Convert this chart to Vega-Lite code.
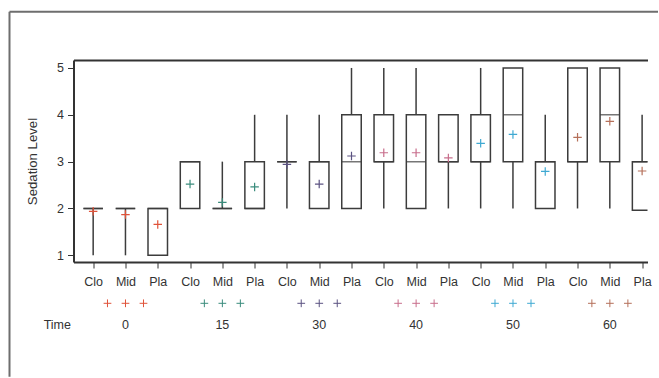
{
  "$schema": "https://vega.github.io/schema/vega-lite/v6.json",
  "padding": {"left": 8.5, "top": 11, "right": 0, "bottom": 0},
  "autosize": {"type": "pad"},
  "datasets": {
    "boxes": [
      {"time": "0", "trt": "Clo", "key": "0-Clo", "min": 1, "q1": 2, "median": 2, "q3": 2, "max": 2, "mean": 1.94},
      {"time": "0", "trt": "Mid", "key": "0-Mid", "min": 1, "q1": 2, "median": 2, "q3": 2, "max": 2, "mean": 1.87},
      {"time": "0", "trt": "Pla", "key": "0-Pla", "min": 1, "q1": 1, "median": 2, "q3": 2, "max": 2, "mean": 1.66},
      {"time": "15", "trt": "Clo", "key": "15-Clo", "min": 2, "q1": 2, "median": 3, "q3": 3, "max": 3, "mean": 2.52},
      {"time": "15", "trt": "Mid", "key": "15-Mid", "min": 2, "q1": 2, "median": 2, "q3": 2, "max": 3, "mean": 2.13},
      {"time": "15", "trt": "Pla", "key": "15-Pla", "min": 2, "q1": 2, "median": 2, "q3": 3, "max": 4, "mean": 2.46},
      {"time": "30", "trt": "Clo", "key": "30-Clo", "min": 2, "q1": 3, "median": 3, "q3": 3, "max": 4, "mean": 2.94},
      {"time": "30", "trt": "Mid", "key": "30-Mid", "min": 2, "q1": 2, "median": 3, "q3": 3, "max": 4, "mean": 2.52},
      {"time": "30", "trt": "Pla", "key": "30-Pla", "min": 2, "q1": 2, "median": 3, "q3": 4, "max": 5, "mean": 3.12},
      {"time": "40", "trt": "Clo", "key": "40-Clo", "min": 2, "q1": 3, "median": 3, "q3": 4, "max": 5, "mean": 3.19},
      {"time": "40", "trt": "Mid", "key": "40-Mid", "min": 2, "q1": 2, "median": 3, "q3": 4, "max": 5, "mean": 3.19},
      {"time": "40", "trt": "Pla", "key": "40-Pla", "min": 2, "q1": 3, "median": 3, "q3": 4, "max": 4, "mean": 3.08},
      {"time": "50", "trt": "Clo", "key": "50-Clo", "min": 2, "q1": 3, "median": 3, "q3": 4, "max": 5, "mean": 3.39},
      {"time": "50", "trt": "Mid", "key": "50-Mid", "min": 2, "q1": 3, "median": 4, "q3": 5, "max": 5, "mean": 3.58},
      {"time": "50", "trt": "Pla", "key": "50-Pla", "min": 2, "q1": 2, "median": 3, "q3": 3, "max": 4, "mean": 2.79},
      {"time": "60", "trt": "Clo", "key": "60-Clo", "min": 2, "q1": 3, "median": 3, "q3": 5, "max": 5, "mean": 3.52},
      {"time": "60", "trt": "Mid", "key": "60-Mid", "min": 2, "q1": 3, "median": 4, "q3": 5, "max": 5, "mean": 3.86},
      {"time": "60", "trt": "Pla", "key": "60-Pla", "min": 1.96, "q1": 1.96, "median": 3, "q3": 3, "max": 4, "mean": 2.8}
    ],
    "frame": [{"fx": "f", "fy": 0}]
  },
  "bounds": "flush",
  "spacing": 30.3,
  "vconcat": [
    {
      "width": 574,
      "height": 202,
      "layer": [
        {
          "data": {"name": "boxes"},
          "layer": [
            {
              "mark": {"type": "rule", "color": "#3c3c3c", "strokeWidth": 1.5},
              "encoding": {
                "x": {
                  "field": "key", "type": "nominal", "sort": null,
                  "scale": {"type": "point", "padding": 0.388, "align": 0.785},
                  "axis": {
                    "orient": "bottom", "title": null, "labelExpr": "split(datum.value, '-')[1]",
                    "labelAngle": 0, "tickSize": 6, "tickColor": "#333", "labelFontSize": 12.5,
                    "labelColor": "#333", "labelPadding": 7, "domainColor": "#333", "domainWidth": 2,
                    "grid": false
                  }
                },
                "y": {
                  "field": "min", "type": "quantitative",
                  "scale": {"domain": [0.857, 5.17], "nice": false, "zero": false},
                  "axis": {
                    "orient": "left",
                    "title": "Sedation Level", "values": [1, 2, 3, 4, 5], "tickSize": 6, "tickColor": "#333",
                    "labelFontSize": 12.5, "labelColor": "#333", "labelPadding": 4,
                    "titleFontSize": 13.2, "titleFontWeight": "normal", "titleColor": "#333", "titlePadding": 17,
                    "domainColor": "#333", "domainWidth": 2, "grid": false
                  }
                },
                "y2": {"field": "max"}
              }
            },
            {
              "mark": {"type": "bar", "width": 19.5, "fill": "white", "stroke": "#3c3c3c", "strokeWidth": 1.5, "clip": true},
              "encoding": {
                "x": {
                  "field": "key", "type": "nominal", "sort": null,
                  "axis": {"orient": "top", "labels": false, "ticks": false, "title": null, "domainColor": "#333", "domainWidth": 2, "grid": false}
                },
                "y": {"field": "q1", "type": "quantitative"},
                "y2": {"field": "q3"}
              }
            },
            {
              "mark": {"type": "tick", "color": "#3c3c3c", "thickness": 1.5, "size": 19.5, "clip": true},
              "encoding": {
                "x": {"field": "key", "type": "nominal", "sort": null, "axis": null},
                "y": {"field": "median", "type": "quantitative"}
              }
            },
            {
              "mark": {"type": "point", "shape": "M-1,0H1M0,-1V1", "size": 72, "strokeWidth": 1.2, "filled": false, "opacity": 1},
              "encoding": {
                "x": {"field": "key", "type": "nominal", "sort": null, "axis": null},
                "y": {"field": "mean", "type": "quantitative"},
                "color": {
                  "field": "time", "type": "nominal",
                  "scale": {"domain": ["0", "15", "30", "40", "50", "60"], "range": ["#e0533a", "#3a8c7c", "#5c5382", "#c86e8c", "#3fa9d2", "#b5705a"]},
                  "legend": null
                }
              }
            }
          ],
          "resolve": {"axis": {"x": "independent"}}
        },
        {
          "data": {"name": "frame"},
          "mark": {"type": "point", "opacity": 0},
          "encoding": {
            "x": {
              "field": "fx", "type": "nominal",
              "scale": {"type": "point", "range": [-64.5, 584]},
              "axis": {"orient": "top", "offset": 48.7, "labels": false, "ticks": false, "title": null, "grid": false, "domainColor": "#6e6e6e", "domainWidth": 2}
            },
            "y": {
              "field": "fy", "type": "quantitative",
              "scale": {"domain": [0, 1], "range": [316.3, -48.7]},
              "axis": {"orient": "left", "offset": 64.5, "labels": false, "ticks": false, "title": null, "grid": false, "domainColor": "#6e6e6e", "domainWidth": 2}
            }
          }
        }
      ],
      "resolve": {"scale": {"x": "independent", "y": "independent"}}
    },
    {
      "width": 574,
      "height": 44,
      "data": {"name": "boxes"},
      "layer": [
        {
          "mark": {"type": "point", "shape": "M-1,0H1M0,-1V1", "size": 60, "strokeWidth": 1, "filled": false, "opacity": 1},
          "encoding": {
            "x": {
              "field": "time", "type": "nominal",
              "scale": {"type": "band", "domain": ["0", "15", "30", "40", "50", "60"], "paddingInner": 0.4, "paddingOuter": 0.1625, "align": 0.728},
              "axis": null
            },
            "xOffset": {
              "field": "trt", "type": "nominal",
              "scale": {"type": "band", "domain": ["Clo", "Mid", "Pla"], "paddingInner": 0, "paddingOuter": 0.114}
            },
            "y": {
              "datum": "m", "type": "nominal",
              "scale": {"type": "band", "domain": ["m", "t"], "paddingInner": 0, "paddingOuter": 0},
              "axis": {
                "title": null, "labelExpr": "datum.value == 't' ? 'Time' : ''", "ticks": false, "domain": false,
                "labelFontSize": 12.5, "labelColor": "#333", "labelPadding": 3, "grid": false
              }
            },
            "color": {
              "field": "time", "type": "nominal",
              "scale": {"domain": ["0", "15", "30", "40", "50", "60"], "range": ["#e0533a", "#3a8c7c", "#5c5382", "#c86e8c", "#3fa9d2", "#b5705a"]},
              "legend": null
            }
          }
        },
        {
          "transform": [{"filter": "datum.trt == 'Mid'"}],
          "mark": {"type": "text", "fontSize": 12.5, "color": "#333"},
          "encoding": {
            "x": {"field": "time", "type": "nominal"},
            "y": {"datum": "t", "type": "nominal"},
            "text": {"field": "time"}
          }
        }
      ]
    }
  ],
  "config": {
    "font": "Liberation Sans",
    "view": {"stroke": null},
    "axis": {"labelFont": "Liberation Sans", "titleFont": "Liberation Sans"},
    "text": {"font": "Liberation Sans"}
  }
}
